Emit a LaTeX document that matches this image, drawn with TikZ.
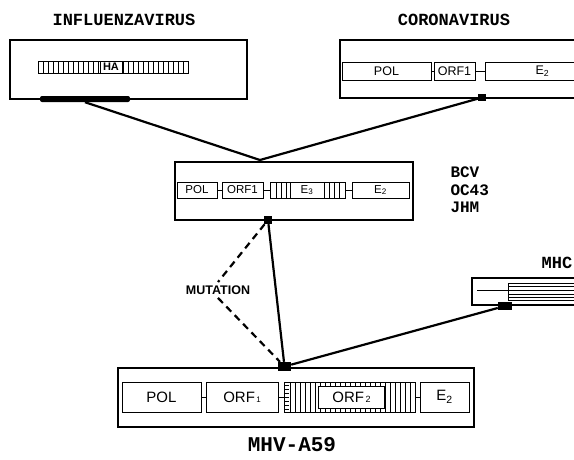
\documentclass[tikz,border=0pt]{standalone}
\usepackage{fontspec}
\setmainfont{Liberation Sans}
\newfontfamily\typefont{Liberation Mono}
\begin{document}
\begin{tikzpicture}[
    x=1pt, y=-1pt,
    genome/.style={
        draw,
        line width=1.5pt,
        inner sep=0
    },
    gene/.style={
        draw,
        line width=0.9pt,
        inner sep=0,
        fill=white,
        align=center
    },
    title/.style={font=\typefont\bfseries\fontsize{17}{19}\selectfont},
    sq/.style={fill=black, inner sep=0},
    link/.style={line width=2.2pt},
    hatch/.style={line width=0.7pt}
]
\clip (0,0) rectangle (574,459);

% Titles
\node[title] (fluTitle) at (124,20) {INFLUENZAVIRUS};
\node[title] (coronaTitle) at (454,20) {CORONAVIRUS};
\node[title, anchor=west, align=left, font=\typefont\bfseries\fontsize{16}{17.5}\selectfont] (bcvTitle) at (447,190) {BCV\\OC43\\JHM};
\node[title] (mhcTitle) at (557,263) {MHC};
\node[title, font=\typefont\bfseries\fontsize{21}{24}\selectfont] (mhvTitle) at (292,445) {MHV-A59};

% Genome boxes
\node[genome, minimum width=237, minimum height=59] (flu) at (128.5,69.5) {};
\node[genome, minimum width=260, minimum height=58] (corona) at (470,69) {};
\node[genome, minimum width=238, minimum height=58] (bcv) at (294,191) {};
\node[genome, minimum width=356, minimum height=59] (mhv) at (296,397.5) {};
\node[genome, minimum width=128, minimum height=27] (mhc) at (536,291.5) {};

% Influenza HA
\node[gene, minimum width=150, minimum height=12] (fluHA) at (113,67) {};
\foreach \x in {43,48,...,183}
    \draw[hatch] (\x,61) -- (\x,73);
\node[gene, minimum width=22, minimum height=12, font=\fontsize{11}{11}\selectfont\bfseries] (haLabel) at (111,67) {HA};

% Coronavirus genes
\begin{scope}[every node/.style={gene, minimum height=18, font=\fontsize{12.5}{12}\selectfont}]
\node[minimum width=89] (coronaPol) at (386.5,71) {POL};
\node[minimum width=41] (coronaOrf) at (454.5,71) {ORF1};
\node[minimum width=115] (coronaE) at (542.5,71) {E\textsubscript{2}};
\end{scope}
\draw[thin] (coronaPol) -- (coronaOrf);
\draw[thin] (coronaOrf) -- (coronaE);

% BCV genes
\begin{scope}[every node/.style={gene, minimum height=16, font=\fontsize{11.5}{11}\selectfont}]
\node[minimum width=40] (bcvPol) at (197,190) {POL};
\node[minimum width=41] (bcvOrf) at (242.5,190) {ORF1};
\node[minimum width=75] (bcvE3) at (307.5,190) {};
\node[minimum width=57] (bcvE2) at (380.5,190) {E\textsubscript{2}};
\end{scope}
\foreach \x in {276,281,286,329,334,339}
    \draw[hatch] (\x,182) -- (\x,198);
\node[gene, minimum width=34, minimum height=16, font=\fontsize{11.5}{11}\selectfont] (bcvE3Label) at (307,190) {E\textsubscript{3}};
\draw[thin] (bcvPol) -- (bcvOrf);
\draw[thin] (bcvOrf) -- (bcvE3);
\draw[thin] (bcvE3) -- (bcvE2);

% MHV genes
\begin{scope}[every node/.style={gene, minimum height=30, font=\fontsize{15}{15}\selectfont}]
\node[minimum width=79] (mhvPol) at (161.5,397) {POL};
\node[minimum width=72] (mhvOrf1) at (242,397) {ORF{\footnotesize\,1}};
\node[minimum width=131] (mhvOrf2) at (349.5,397) {};
\node[minimum width=49] (mhvE) at (444.5,397) {E\textsubscript{2}};
\end{scope}
\foreach \y in {385,389,...,409}
    \draw[hatch] (284,\y) -- (289,\y);
\foreach \x in {290,295,...,410}
    \draw[hatch] (\x,382) -- (\x,412);
\node[gene, minimum width=66, minimum height=22, font=\fontsize{15}{15}\selectfont] (mhvOrf2Label) at (351.5,397) {ORF{\small\,2}};
\draw[thin] (mhvPol) -- (mhvOrf1);
\draw[thin] (mhvOrf1) -- (mhvOrf2);
\draw[thin] (mhvOrf2) -- (mhvE);

% MHC
\draw[line width=0.9pt] (477,290) -- (508,290);
\draw[line width=0.9pt] (508,283) rectangle (600,300);
\foreach \y in {286,290,294,297}
    \draw[line width=1pt] (508,\y) -- (600,\y);

% Markers
\node[sq, rounded corners=2, minimum width=90, minimum height=6] (fluBar) at (85,99) {};
\node[sq, minimum width=8, minimum height=7] (coronaSq) at (482,97.5) {};
\node[sq, minimum size=8] (bcvSq) at (268,220) {};
\node[sq, minimum width=13, minimum height=9] (mhvSq) at (284.5,366.5) {};
\node[sq, minimum width=14, minimum height=8] (mhcSq) at (505,306) {};
\coordinate (join) at (260,160);

\node[font=\fontsize{12.5}{12}\selectfont\bfseries] (mutation) at (218,290) {MUTATION};

% Connectors
\draw[link] (fluBar.south) -- (join);
\draw[link] (coronaSq) -- (join);
\draw[link] (bcvSq) -- (mhvSq);
\draw[link, dash pattern=on 7pt off 5pt] (bcvSq) -- (mutation.north);
\draw[link, dash pattern=on 7pt off 5pt] (mutation.south) -- (mhvSq);
\draw[link] (mhvSq) -- (mhcSq);

\end{tikzpicture}
\end{document}
